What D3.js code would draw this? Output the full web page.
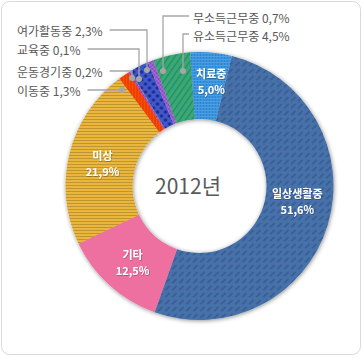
<!DOCTYPE html>
<html><head><meta charset="utf-8">
<script src="https://cdn.jsdelivr.net/npm/d3@7"></script>
<style>
body{margin:0;background:#fff}
svg{display:block}
text{font-family:"Noto Sans CJK KR","Noto Sans",sans-serif}
</style>
</head><body>
<svg id="c" width="362" height="358"></svg>
<script>
// ---- data ----
const categories = ["일상생활중","기타","미상","이동중","운동경기중","교육중","여가활동중","무소득근무중","유소득근무중","치료중"];
const values = [51.6, 12.5, 21.9, 1.3, 0.2, 0.1, 2.3, 0.7, 4.5, 5.0];
const centerTitle = "2012년";
const insideCategories = ["일상생활중","기타","미상","치료중"];
const outsideCategories = ["이동중","운동경기중","교육중","여가활동중","무소득근무중","유소득근무중"];

// ---- layout / style (not data) ----
const W = 362, H = 358;
const cx = 199.5, cy = 186, rOuter = 134, rInner = 67;
const startDeg = 14;
const outsideLayout = {
  "이동중":       {tx: 17,  ty: 90, side: "left",  ax: 122, ay: 90},
  "운동경기중":   {tx: 17,  ty: 71, side: "left",  ax: 132, ay: 78},
  "교육중":       {tx: 17,  ty: 49, side: "left",  ax: 139, ay: 79},
  "여가활동중":   {tx: 17,  ty: 30, side: "left",  ax: 147, ay: 70},
  "무소득근무중": {tx: 193, ty: 17, side: "right", ax: 163, ay: 71},
  "유소득근무중": {tx: 193, ty: 35, side: "right", ax: 183, ay: 71}
};
const insideOffset = {"일상생활중": [2,-15], "기타": [0,0], "미상": [0,0], "치료중": [3,-7]};

const fmt = v => d3.format(".1f")(v).replace(".", ",") + "%";

const svg = d3.select("#c");
const defs = svg.append("defs");

function pattern(id, w, h, bg, draw, transform) {
  const p = defs.append("pattern").attr("id", id)
    .attr("patternUnits", "userSpaceOnUse").attr("width", w).attr("height", h);
  if (transform) p.attr("patternTransform", transform);
  p.append("rect").attr("width", w).attr("height", h).attr("fill", bg);
  if (draw) draw(p);
}
// 일상생활중: blue with short diagonal dashes
pattern("p0", 7, 7, "#4671A9", p => p.append("line").attr("x1",1.2).attr("y1",5.8).attr("x2",4.6).attr("y2",2.4)
  .attr("stroke","#375B90").attr("stroke-width",1.6).attr("stroke-linecap","round"));
// 기타: pink solid
pattern("p1", 4, 4, "#EE6FA1");
// 미상: golden with horizontal stripes
pattern("p2", 4, 3, "#EAB63B", p => p.append("rect").attr("y",2).attr("width",4).attr("height",1).attr("fill","#BF9432"));
// 이동중: red-orange vertical stripes
pattern("p3", 3, 3, "#FF4B05", p => p.append("rect").attr("x",0).attr("width",1).attr("height",3).attr("fill","#D83200"));
// 운동경기중: purple hatch
pattern("p4", 4, 4, "#B244D8", p => p.append("rect").attr("width",1.2).attr("height",4).attr("fill","#8A2AB2"), "rotate(45)");
// 교육중: grey crosshatch
pattern("p5", 5, 5, "#8E8E8E", p => { p.append("rect").attr("width",5).attr("height",1).attr("fill","#5A5A5A"); p.append("rect").attr("width",1).attr("height",5).attr("fill","#5A5A5A"); });
// 여가활동중: blue with dark dots
pattern("p6", 8, 8, "#3F58CA", p => { p.append("circle").attr("cx",2).attr("cy",2).attr("r",1.7).attr("fill","#1B2B8C"); p.append("circle").attr("cx",6).attr("cy",6).attr("r",1.7).attr("fill","#1B2B8C"); });
// 무소득근무중: purple small checker
pattern("p7", 4, 4, "#8F4DC2", p => { p.append("rect").attr("width",2).attr("height",2).attr("fill","#A56BD6"); p.append("rect").attr("x",2).attr("y",2).attr("width",2).attr("height",2).attr("fill","#A56BD6"); });
// 유소득근무중: green with diagonal lines
pattern("p8", 5, 5, "#37A977", p => p.append("rect").attr("width",1.3).attr("height",5).attr("fill","#2A8A5E"), "rotate(35)");
// 치료중: blue grid
pattern("p9", 3, 3, "#4C9FE2", p => p.append("rect").attr("width",2).attr("height",2).attr("fill","#2A87D3"));

const fills = categories.map((c, i) => `url(#p${i})`);

const f = defs.append("filter").attr("id","sh").attr("x","-20%").attr("y","-20%").attr("width","140%").attr("height","140%");
f.append("feDropShadow").attr("dx",0.6).attr("dy",0.8).attr("stdDeviation",2.2).attr("flood-color","#000").attr("flood-opacity",0.45);
const ft = defs.append("filter").attr("id","tsh").attr("x","-20%").attr("y","-20%").attr("width","140%").attr("height","140%");
ft.append("feDropShadow").attr("dx",0.5).attr("dy",0.6).attr("stdDeviation",0.6).attr("flood-color","#000").attr("flood-opacity",0.4);

// frame
svg.append("rect").attr("x",1.5).attr("y",1.5).attr("width",W-3).attr("height",H-5)
  .attr("rx",8).attr("fill","#fff").attr("stroke","#D9D9D9").attr("stroke-width",1);

const data = categories.map((c, i) => ({cat: c, value: values[i], fill: fills[i]}));
const s0 = startDeg * Math.PI / 180;
const pie = d3.pie().sort(null).value(d => d.value).startAngle(s0).endAngle(s0 + 2 * Math.PI);
const arcs = pie(data);
const arc = d3.arc().innerRadius(rInner).outerRadius(rOuter);
const labelArc = d3.arc().innerRadius(100).outerRadius(100);

const g = svg.append("g").attr("transform", `translate(${cx},${cy})`);
g.append("g").attr("filter","url(#sh)")
  .selectAll("path").data(arcs).join("path")
  .attr("d", arc).attr("fill", d => d.data.fill);

// inside labels (two separate text lines)
const inside = g.append("g").attr("filter","url(#tsh)");
arcs.filter(a => insideCategories.includes(a.data.cat)).forEach(a => {
  const [x, y] = labelArc.centroid(a);
  const o = insideOffset[a.data.cat];
  [[a.data.cat, -1.5], [fmt(a.data.value), 14.5]].forEach(([txt, dy]) => {
    inside.append("text").attr("text-anchor","middle").attr("fill","#fff")
      .attr("font-size",11).attr("font-weight","bold")
      .attr("x", x + o[0]).attr("y", y + o[1] + dy).text(txt);
  });
});

// center title
svg.append("text").attr("x", 188).attr("y", 185).attr("text-anchor","middle")
  .attr("dominant-baseline","central").attr("font-size",21).attr("fill","#595959").text(centerTitle);

// outside labels with leader lines
const ol = svg.append("g");
arcs.filter(a => outsideCategories.includes(a.data.cat)).forEach(a => {
  const L = outsideLayout[a.data.cat];
  const t = ol.append("text").attr("x", L.tx).attr("y", L.ty).attr("dominant-baseline","central")
    .attr("font-size",12).attr("fill","#595959").text(a.data.cat + " " + fmt(a.data.value));
  let pts;
  if (L.side === "left") {
    const end = L.tx + t.node().getComputedTextLength() + 7;
    pts = [[end, L.ty], [L.ax, L.ty], [L.ax, L.ay]];
  } else {
    pts = [[L.tx - 4, L.ty - 1], [L.ax, L.ty - 1], [L.ax, L.ay]];
  }
  ol.append("path").attr("d", d3.line()(pts)).attr("fill","none").attr("stroke","#A6A6A6").attr("stroke-width",1.3);
  ol.append("circle").attr("cx", L.ax).attr("cy", L.ay).attr("r", 3).attr("fill","#A6A6A6");
});
</script>
</body></html>
